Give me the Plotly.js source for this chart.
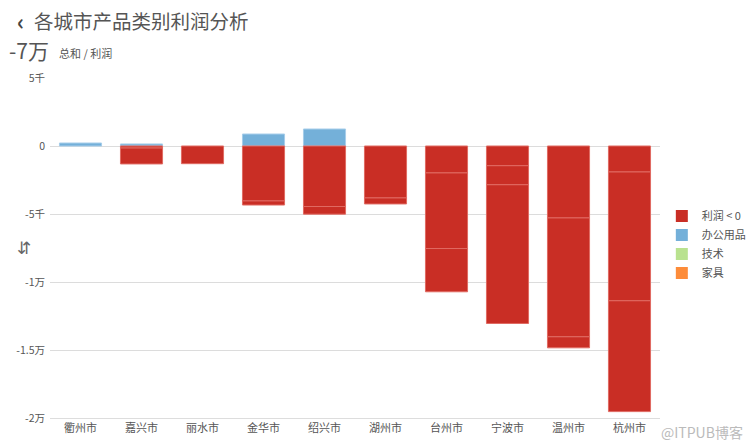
<!DOCTYPE html>
<html>
<head>
<meta charset="utf-8">
<script src="https://cdn.plot.ly/plotly-3.0.1.min.js"></script>
<style>html,body{margin:0;padding:0;background:#fff;}#chart{width:751px;height:445px;}</style>
</head>
<body>
<div id="chart"></div>
<script>
const cities = ['衢州市','嘉兴市','丽水市','金华市','绍兴市','湖州市','台州市','宁波市','温州市','杭州市'];
const office    = [220,   150, -1300,   880,  1250, -3820, -1980, -1450, -5290, -1910];
const tech      = [0,    -150,     0, -4040, -4450,  -440, -5560, -1400, -8740, -9470];
const furniture = [0,   -1170,     0,  -300,  -560,     0, -3180,-10200,  -810, -8150];
const seriesNames = ['办公用品','技术','家具'];
const legendNames = ['利润 < 0','办公用品','技术','家具'];
const tickVals = [5000, 0, -5000, -10000, -15000, -20000];
const tickText = ['5千','0','-5千','-1万','-1.5万','-2万'];

const RED = '#c92e25', RED_LINE = '#e06a62';
const catColors = ['#74b0d9','#b9e28f','#fd8c3a'];
const catLines = ['#a6cdea','#d4efb8','#fdb57f'];
const font = '"Noto Sans CJK SC", "Noto Sans", sans-serif';

const traces = [];
[office, tech, furniture].forEach((vals, i) => {
  traces.push({
    type: 'bar',
    x: cities,
    y: vals.map(v => v === 0 ? null : v),
    name: seriesNames[i],
    showlegend: false,
    hoverinfo: 'x+y',
    marker: {
      color: vals.map(v => v < 0 ? RED : catColors[i]),
      line: {color: vals.map(v => v < 0 ? RED_LINE : catLines[i]), width: 1}
    }
  });
});
const legendColors = [RED].concat(catColors);
legendNames.forEach((n, i) => {
  traces.push({
    type: 'bar', x: [cities[0]], y: [null], name: n, showlegend: true,
    marker: {color: legendColors[i]}, hoverinfo: 'skip'
  });
});

const layout = {
  width: 751, height: 445,
  margin: {l: 50, r: 91, t: 78, b: 27, autoexpand: false},
  barmode: 'relative',
  bargap: 0.31,
  paper_bgcolor: '#fff', plot_bgcolor: '#fff',
  font: {family: font, size: 11, color: '#555'},
  showlegend: true,
  legend: {x: 1.003, y: 0.51, yanchor: 'middle', xanchor: 'left', font: {size: 11, color: '#555'}, tracegroupgap: 0, bgcolor: 'rgba(0,0,0,0)'},
  xaxis: {
    type: 'category', categoryorder: 'array', categoryarray: cities,
    showgrid: false, showline: true, linecolor: '#ddd', linewidth: 1,
    ticks: '', tickfont: {size: 11, color: '#555'}, fixedrange: true
  },
  yaxis: {
    range: [-20000, 5000], tickvals: tickVals, ticktext: tickText,
    showgrid: true, gridcolor: '#dcdcdc', gridwidth: 1,
    zeroline: false, showline: false, ticks: '',
    tickfont: {size: 10.5, color: '#555'}, ticklabelstandoff: 4, fixedrange: true
  },
  annotations: [
    {xref: 'paper', yref: 'paper', x: -0.058, y: 1.17, xanchor: 'left', yanchor: 'middle', showarrow: false,
     text: '<b>‹</b>', font: {size: 22, color: '#444', family: font}},
    {xref: 'paper', yref: 'paper', x: -0.03, y: 1.17, xanchor: 'left', yanchor: 'middle', showarrow: false,
     text: '各城市产品类别利润分析', font: {size: 19.5, color: '#555', family: font}},
    {xref: 'paper', yref: 'paper', x: -0.07, y: 1.082, xanchor: 'left', yanchor: 'middle', showarrow: false,
     text: '-7万', font: {size: 21, color: '#555', family: font}},
    {xref: 'paper', yref: 'paper', x: 0.012, y: 1.074, xanchor: 'left', yanchor: 'middle', showarrow: false,
     text: '总和 / 利润', font: {size: 11, color: '#555', family: font}},
    {xref: 'paper', yref: 'paper', x: -0.058, y: 0.50, xanchor: 'left', yanchor: 'middle', showarrow: false,
     text: '⇵', font: {size: 17, color: '#666', family: 'DejaVu Sans'}},
    {xref: 'paper', yref: 'paper', x: 0.998, y: -0.04, xanchor: 'left', yanchor: 'middle', showarrow: false,
     text: '@ITPUB博客', font: {size: 14, color: '#bbb', family: font}}
  ]
};
Plotly.newPlot('chart', traces, layout, {displayModeBar: false, staticPlot: false});
</script>
</body>
</html>
